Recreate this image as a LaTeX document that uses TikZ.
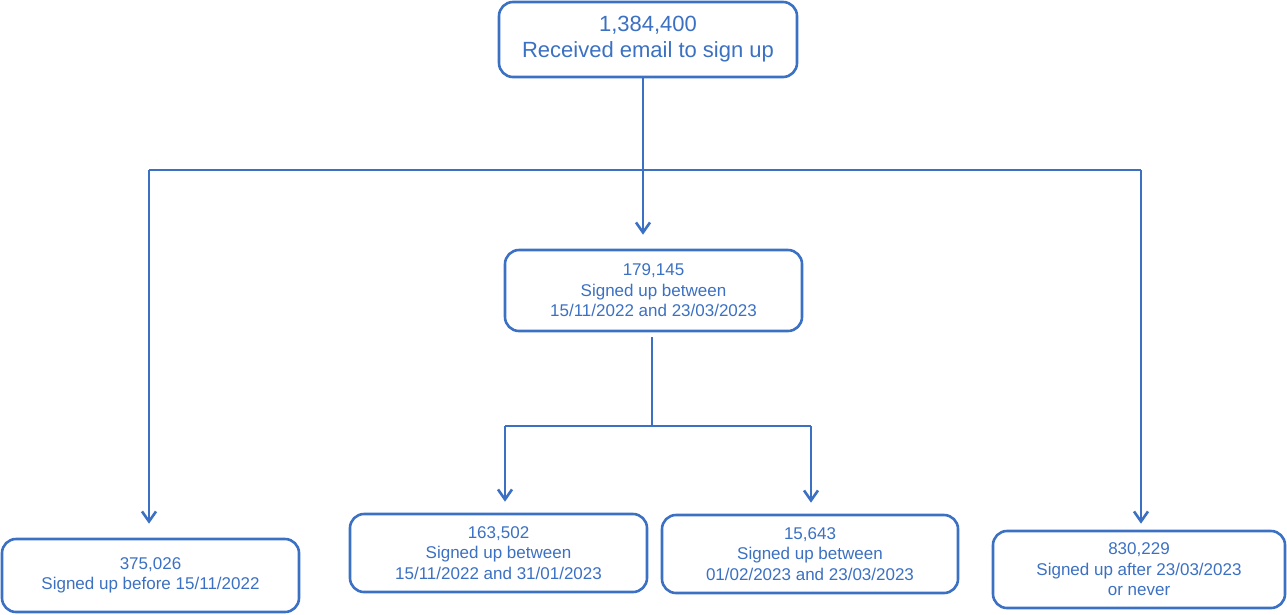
\documentclass[tikz,border=0pt]{standalone}
\usepackage{fontspec}
\setmainfont{Liberation Sans}
\usetikzlibrary{arrows.meta}
\definecolor{fc}{RGB}{59,112,194}
\begin{document}
\begin{tikzpicture}[x=1pt,y=-1pt,
  box/.style={draw=fc,line width=2.6pt,rounded corners=14pt,text=fc,align=center,inner sep=0pt},
  big/.style={box,font=\fontsize{22}{26}\selectfont},
  small/.style={box,font=\fontsize{17}{20.5}\selectfont},
  conn/.style={draw=fc,line width=2.6pt},
  arr/.style={conn,-{Straight Barb[length=10pt,width=14pt,line width=2.6pt]}}]
\useasboundingbox (0,0) rectangle (1287,614);
\node[big,minimum width=298pt,minimum height=75pt] (top) at (648,39.5) {1,384,400\\Received email to sign up};
\node[small,minimum width=297pt,minimum height=81pt] (mid) at (653.5,290.5) {179,145\\Signed up between\\15/11/2022 and 23/03/2023};
\node[small,minimum width=297pt,minimum height=73pt] (left) at (150.5,575.5) {375,026\\Signed up before 15/11/2022};
\node[small,minimum width=292pt,minimum height=77pt] (right) at (1139,569.5) {830,229\\Signed up after 23/03/2023\\or never};
\node[small,minimum width=297pt,minimum height=78pt] (a) at (498.5,553) {163,502\\Signed up between\\15/11/2022 and 31/01/2023};
\node[small,minimum width=296pt,minimum height=78pt] (b) at (810,554) {15,643\\Signed up between\\01/02/2023 and 23/03/2023};
\coordinate (j1) at (643,170);
\coordinate (jl) at (149,170);
\coordinate (jr) at (1141,170);
\coordinate (j2) at (652,426);
\coordinate (ja) at (505,426);
\coordinate (jb) at (811,426);
\path[conn] (top.south -| j1) -- (j1);
\path[conn] (jl) -- (jr);
\path[arr,shorten >=14pt] (j1) -- (j1 |- mid.north);
\path[arr,shorten >=14pt] (jl) -- (jl |- left.north);
\path[arr,shorten >=6pt] (jr) -- (jr |- right.north);
\path[conn,shorten <=5pt] (mid.south -| j2) -- (j2);
\path[conn] (ja) -- (jb);
\path[arr,shorten >=11pt] (ja) -- (ja |- a.north);
\path[arr,shorten >=11pt] (jb) -- (jb |- b.north);
\end{tikzpicture}
\end{document}
